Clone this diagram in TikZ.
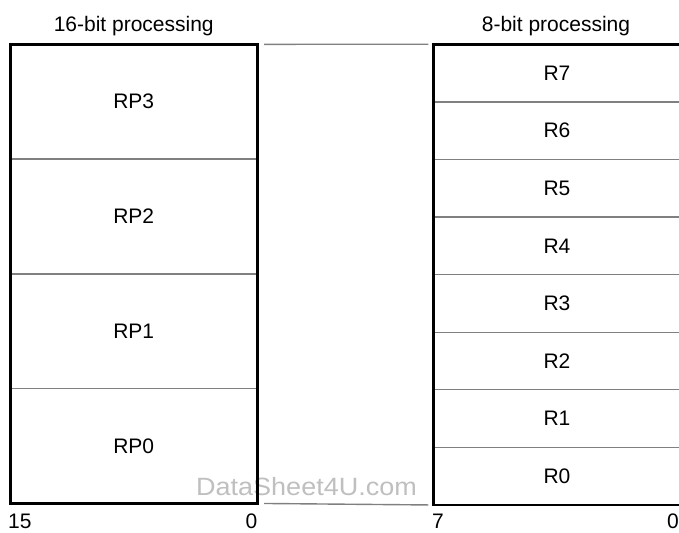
\documentclass[tikz,border=0pt]{standalone}
\usepackage{fontspec}
\setmainfont{Liberation Sans}
\usetikzlibrary{positioning}
\tikzset{x=1pt, y=-1pt,
  every node/.style={font=\fontsize{21}{25}\selectfont, inner sep=0pt},
  wide/.style={minimum width=246.5pt, minimum height=114.375pt},
  narrow/.style={minimum width=247pt, minimum height=57.1875pt},
  frame/.style={line width=2.6pt},
  divider/.style={line width=1.3pt, gray},
  link/.style={line width=1.4pt, gray},
  bitlabel/.style={anchor=base}}

\begin{document}
\begin{tikzpicture}
\useasboundingbox (0,0) rectangle (679,532);
\node (wm) [anchor=base west, text=gray!50, font=\fontsize{25}{29}\selectfont] at (196,495) {\scalebox{1.08}[1]{DataSheet4U.com}};
% 16-bit side
\node (rp3) [wide] at (133.75,101.69) {RP3};
\node (rp2) [wide, below=0pt of rp3] {RP2};
\node (rp1) [wide, below=0pt of rp2] {RP1};
\node (rp0) [wide, below=0pt of rp1] {RP0};
% 8-bit side
\node (r7) [narrow] at (557,73.09) {R7};
\node (r6) [narrow, below=0pt of r7] {R6};
\node (r5) [narrow, below=0pt of r6] {R5};
\node (r4) [narrow, below=0pt of r5] {R4};
\node (r3) [narrow, below=0pt of r4] {R3};
\node (r2) [narrow, below=0pt of r3] {R2};
\node (r1) [narrow, below=0pt of r2] {R1};
\node (r0) [narrow, below=0pt of r1] {R0};
\foreach \c in {rp3,rp2,rp1}
  \draw[divider] (\c.south west) -- (\c.south east);
\foreach \c in {r7,r6,r5,r4,r3,r2,r1}
  \draw[divider] (\c.south west) -- (\c.south east);
\draw[frame] (rp3.north west) rectangle (rp0.south east);
\draw[frame] (r7.north west) rectangle (r0.south east);
\draw[link, shorten <=7pt, shorten >=5pt] (rp3.north east) -- (r7.north west);
\draw[link, shorten <=7pt, shorten >=5pt] (rp0.south east) -- (r0.south west);
% titles and bit numbers
\node (t16) [bitlabel] at (rp3.north |- 0,32) {16-bit processing};
\node (t8) [bitlabel] at (556,32) {8-bit processing};
\node (b15) [bitlabel, anchor=base west] at (8,528) {15};
\node (b0l) [bitlabel] at (251.5,528) {0};
\node (b7) [bitlabel] at (438,528) {7};
\node (b0r) [bitlabel, anchor=base west] at (667,528) {0};
\end{tikzpicture}
\end{document}
